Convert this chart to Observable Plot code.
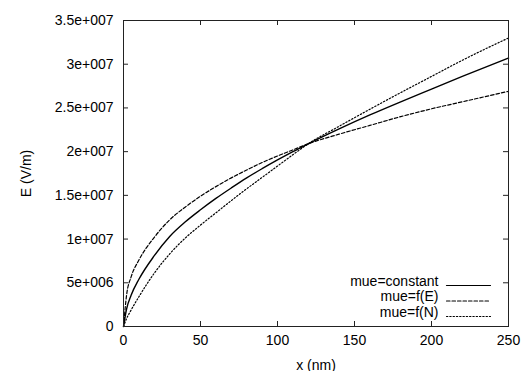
<!DOCTYPE html>
<html>
<head>
<meta charset="utf-8">
<script src="https://cdn.jsdelivr.net/npm/d3@7"></script>
<script src="https://cdn.jsdelivr.net/npm/@observablehq/plot@0.6"></script>
<style>
  html, body { margin: 0; padding: 0; background: #fff; }
  #chart svg { display: block; }
</style>
</head>
<body>
<div id="chart"></div>
<script>
// Data (E in units of 1e6 V/m)
const xValues = [0, 2, 5, 10, 20, 30, 40, 50, 60, 70, 80, 90, 100, 110, 120, 140, 160, 180, 200, 220, 250];
const eConstant = [0, 2.0, 3.6, 5.4, 8.1, 10.3, 11.95, 13.35, 14.65, 15.85, 17.0, 18.05, 19.05, 20.0, 20.9, 22.6, 24.2, 25.7, 27.15, 28.6, 30.7];
const eFieldDep = [0, 3.6, 5.7, 7.6, 10.2, 12.2, 13.65, 14.9, 16.0, 17.0, 17.9, 18.75, 19.5, 20.2, 20.9, 22.0, 23.0, 24.0, 24.9, 25.7, 26.9];
const eDopingDep = [0, 0.9, 1.9, 3.4, 6.1, 8.3, 10.1, 11.6, 13.0, 14.4, 15.75, 17.05, 18.35, 19.65, 20.9, 22.9, 24.85, 26.75, 28.6, 30.45, 33.0];
const seriesNames = ["mue=constant", "mue=f(E)", "mue=f(N)"];
const seriesDash = [null, "3.5,2", "1.3,2"];

const xTicks = [0, 50, 100, 150, 200, 250];
const yTicks = [0, 5e6, 1e7, 1.5e7, 2e7, 2.5e7, 3e7, 3.5e7];
const yTickLabels = ["0", "5e+006", "1e+007", "1.5e+007", "2e+007", "2.5e+007", "3e+007", "3.5e+007"];

const seriesValues = [eConstant, eFieldDep, eDopingDep];
const rows = [];
seriesNames.forEach((name, s) => {
  xValues.forEach((x, i) => rows.push({series: name, x, E: seriesValues[s][i] * 1e6}));
});

const W = 522, H = 371;
const mL = 123, mR = 14, mT = 20, mB = 45;
const pw = W - mL - mR, ph = H - mT - mB;
const tickLen = 5;
const font = "'Liberation Sans', Arial, Helvetica, sans-serif";

const lineShape = { draw(ctx, l) { ctx.moveTo(0, 0); ctx.lineTo(0, -l); } };

const legendMarks = seriesNames.flatMap((name, i) => [
  Plot.text([name], {
    text: d => d, frameAnchor: "bottom-right", textAnchor: "end",
    dx: -70, dy: -41 + i * 15.5, fontSize: 14, fill: "#000"
  }),
  Plot.vector([name], {
    frameAnchor: "bottom-right", dx: -62, dy: -41 + i * 15.5,
    length: 44, rotate: 90, anchor: "start", shape: lineShape,
    stroke: "#000", strokeWidth: 1.2, strokeDasharray: seriesDash[i]
  })
]);

const chart = Plot.plot({
  width: W, height: H,
  marginLeft: mL, marginRight: mR, marginTop: mT, marginBottom: mB,
  style: { fontFamily: font, fontSize: "14px", color: "#000", background: "#fff" },
  x: { domain: [0, 250] },
  y: { domain: [0, 3.5e7] },
  marks: [
    Plot.axisX({ ticks: xTicks, tickSize: 0, tickPadding: 9, fontSize: 14, label: "x (nm)", labelAnchor: "center", labelOffset: 43, labelArrow: "none" }),
    Plot.axisY({ ticks: yTicks, tickSize: 0, tickPadding: 10, fontSize: 14, tickFormat: (d) => yTickLabels[yTicks.indexOf(d)], label: "E (V/m)", labelAnchor: "center", labelOffset: 102, labelArrow: "none" }),
    Plot.tickX(xTicks, { x: d => d, insetTop: ph - tickLen, stroke: "#222" }),
    Plot.tickX(xTicks, { x: d => d, insetBottom: ph - tickLen, stroke: "#222" }),
    Plot.tickY(yTicks, { y: d => d, insetRight: pw - tickLen, stroke: "#222" }),
    Plot.tickY(yTicks, { y: d => d, insetLeft: pw - tickLen, stroke: "#222" }),
    ...seriesNames.map((name, i) =>
      Plot.line(rows.filter(r => r.series === name), {
        x: "x", y: "E", curve: "monotone-x", stroke: "#000",
        strokeWidth: i === 0 ? 1.4 : 1.2, strokeDasharray: seriesDash[i]
      })
    ),
    Plot.frame({ stroke: "#222", strokeWidth: 1 }),
    ...legendMarks
  ]
});
document.getElementById("chart").appendChild(chart);
</script>
</body>
</html>
